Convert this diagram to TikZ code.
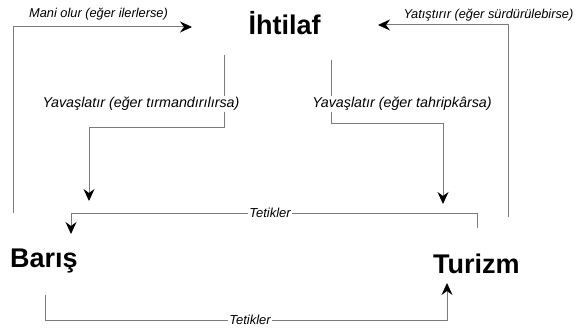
\documentclass[tikz,border=0pt]{standalone}
\usepackage{fontspec}
\setmainfont{Liberation Sans}
\usetikzlibrary{arrows.meta}
\definecolor{linegray}{HTML}{7A7A7A}
\begin{document}
\begin{tikzpicture}[x=1pt,y=-1pt,
  big/.style={font=\fontsize{27}{30}\selectfont\bfseries, inner sep=0pt},
  toplbl/.style={font=\fontsize{12.8}{15}\selectfont\itshape, inner sep=1pt, fill=white},
  lbl/.style={font=\fontsize{14.3}{16}\selectfont\itshape, inner sep=1pt, fill=white},
  tlbl/.style={font=\fontsize{13}{14}\selectfont\itshape, inner sep=1pt, fill=white},
  conn/.style={draw=linegray, line width=1pt, -{Stealth[length=12pt,width=11pt,inset=4pt,color=black]}},
  plain/.style={draw=linegray, line width=1pt}]
\useasboundingbox (0,0) rectangle (583,331);
\fill[white] (0,0) rectangle (583,331);

% main terms
\node[big, anchor=base] (ihtilaf) at (284.5,35) {İhtilaf};
\node[big, anchor=base west] (baris) at (10,267) {Barış};
\node[big, anchor=base west] (turizm) at (433,273) {Turizm};

% connector end points
\coordinate (m1) at (13,213);  \coordinate (m2) at (192,27);
\coordinate (y1) at (508,217); \coordinate (y2) at (378,25);
\coordinate (l1) at (224,55);  \coordinate (l2) at (224,128); \coordinate (l3) at (89,201);
\coordinate (r1) at (331,60);  \coordinate (r2) at (331,124); \coordinate (r3) at (443,204);
\coordinate (t1) at (477,228); \coordinate (t2) at (477,213); \coordinate (t3) at (71,234);
\coordinate (b1) at (45,295);  \coordinate (b2) at (45,320);  \coordinate (b3) at (447,283);

% connectors
\draw[conn] (m1) |- (m2);
\draw[conn] (y1) |- (y2);
\draw[conn] (l1) -- (l2) -| (l3);
\draw[conn] (r1) -- (r2) -| (r3);
\draw[conn] (t1) -- (t2) -| (t3);
\draw[conn] (b1) -- (b2) -| (b3);

% labels
\node[toplbl] (lm) at (98.5,14) {Mani olur (eğer ilerlerse)};
\node[toplbl] (ly) at (488.5,15) {Yatıştırır (eğer sürdürülebirse)};
\node[lbl] (ll) at (141,104) {Yavaşlatır (eğer tırmandırılırsa)};
\node[lbl] (lr) at (402,104) {Yavaşlatır (eğer tahripkârsa)};
\node[tlbl] (lt) at (270,213) {Tetikler};
\node[tlbl] (lb) at (250,320) {Tetikler};
\end{tikzpicture}
\end{document}
